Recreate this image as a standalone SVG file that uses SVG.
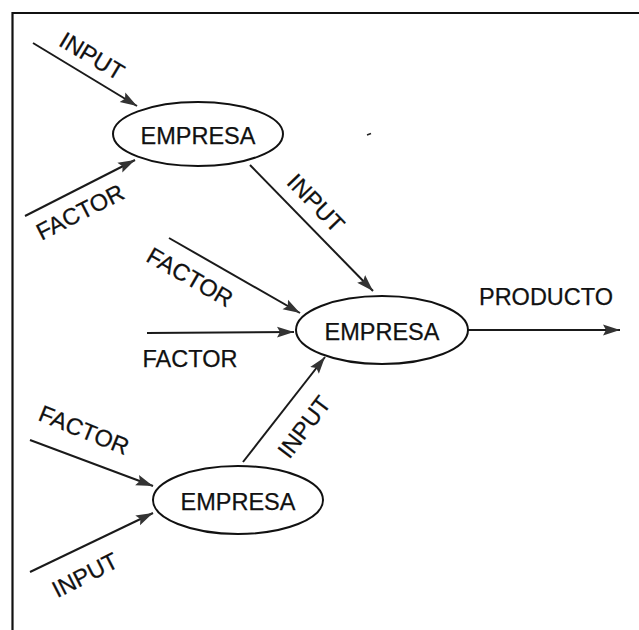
<svg xmlns="http://www.w3.org/2000/svg" width="639" height="630" viewBox="0 0 639 630">
  <style>
    .frame { fill: none; stroke: #111; stroke-width: 2.2; }
    .node ellipse { fill: #fff; stroke: #111; stroke-width: 2; }
    .lbl { font-family: "Liberation Sans", Arial, sans-serif; font-size: 23.5px; fill: #111; stroke: #111; stroke-width: 0.25; text-anchor: middle; }
    .edge { fill: none; stroke: #1a1a1a; stroke-width: 2; marker-end: url(#arrow); }
  </style>
  <defs>
    <marker id="arrow" markerUnits="userSpaceOnUse" markerWidth="20" markerHeight="14" refX="17" refY="7" orient="auto">
      <path d="M0,1.5 L17,7 L0,12.5 L3,7 Z" fill="#333"/>
    </marker>
  </defs>

  <rect width="639" height="630" fill="#fff"/>

  <!-- open frame: top and left edges only -->
  <path class="frame" d="M639,13 H12.5 V630"/>

  <!-- connectors -->
  <g id="connectors">
    <line class="edge" x1="33" y1="43" x2="137" y2="106"/>
    <line class="edge" x1="25" y1="216" x2="135" y2="160"/>
    <line class="edge" x1="250" y1="165" x2="373" y2="291"/>
    <line class="edge" x1="169" y1="238" x2="300" y2="313"/>
    <line class="edge" x1="147" y1="333" x2="294" y2="332"/>
    <line class="edge" x1="468" y1="330" x2="620" y2="330"/>
    <line class="edge" x1="243" y1="462" x2="325" y2="357"/>
    <line class="edge" x1="30" y1="440" x2="153" y2="486"/>
    <line class="edge" x1="30" y1="572" x2="153" y2="513"/>

    <text class="lbl" transform="translate(92,56) rotate(31)" dy="0.35em">INPUT</text>
    <text class="lbl" transform="translate(80,212) rotate(-27)" dy="0.35em">FACTOR</text>
    <text class="lbl" transform="translate(316,203) rotate(46)" dy="0.35em">INPUT</text>
    <text class="lbl" transform="translate(190,277) rotate(30)" dy="0.35em">FACTOR</text>
    <text class="lbl" x="190" y="367">FACTOR</text>
    <text class="lbl" x="546" y="305">PRODUCTO</text>
    <text class="lbl" transform="translate(304,427) rotate(-53)" dy="0.35em">INPUT</text>
    <text class="lbl" transform="translate(84,430) rotate(22)" dy="0.35em">FACTOR</text>
    <text class="lbl" transform="translate(85,575) rotate(-27)" dy="0.35em">INPUT</text>
  </g>

  <!-- firms -->
  <g id="empresa-top" class="node">
    <ellipse cx="198" cy="134" rx="85" ry="32"/>
    <text class="lbl" x="198" y="144">EMPRESA</text>
  </g>
  <g id="empresa-center" class="node">
    <ellipse cx="382" cy="330" rx="86" ry="34"/>
    <text class="lbl" x="382" y="340">EMPRESA</text>
  </g>
  <g id="empresa-bottom" class="node">
    <ellipse cx="238" cy="500" rx="85" ry="34"/>
    <text class="lbl" x="238" y="510">EMPRESA</text>
  </g>

  <!-- small stray mark -->
  <line x1="367" y1="135" x2="371" y2="133.5" stroke="#222" stroke-width="1.5"/>
</svg>
